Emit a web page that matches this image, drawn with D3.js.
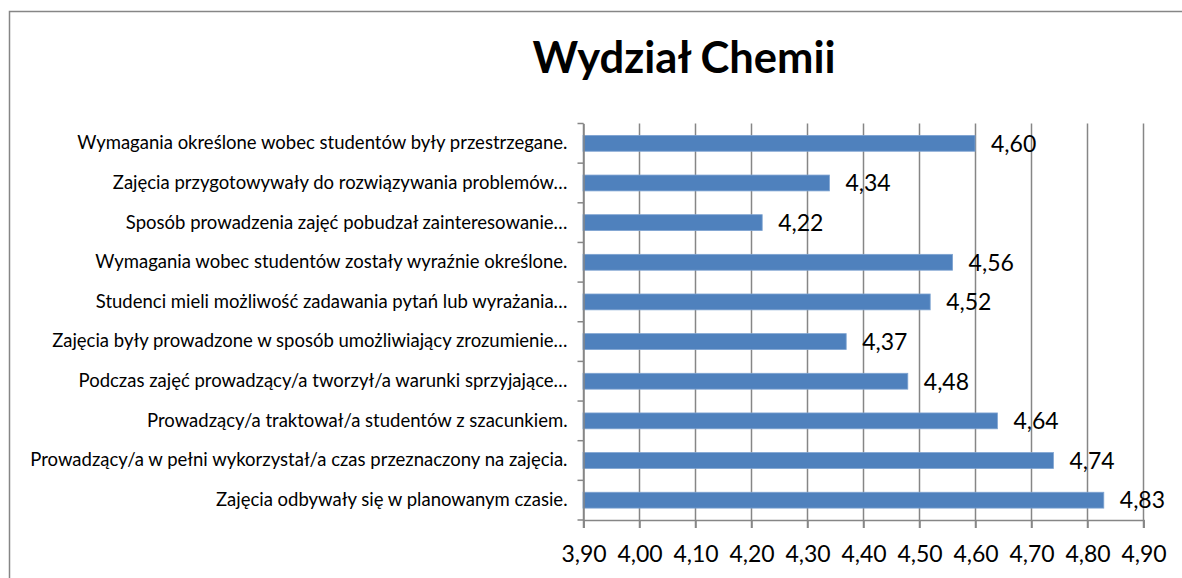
<!DOCTYPE html>
<html>
<head>
<meta charset="utf-8">
<script src="https://cdn.jsdelivr.net/npm/d3@7"></script>
<style>
  body { margin: 0; background: #fff; }
  svg { display: block; font-family: Lato, "Open Sans", sans-serif; }
</style>
</head>
<body>
<div id="chart_area"></div>
<script>
var categories = [
    "Wymagania określone wobec studentów były przestrzegane.",
    "Zajęcia przygotowywały do rozwiązywania problemów…",
    "Sposób prowadzenia zajęć pobudzał zainteresowanie…",
    "Wymagania wobec studentów zostały wyraźnie określone.",
    "Studenci mieli możliwość zadawania pytań lub wyrażania…",
    "Zajęcia były prowadzone w sposób umożliwiający zrozumienie…",
    "Podczas zajęć prowadzący/a tworzył/a warunki sprzyjające…",
    "Prowadzący/a traktował/a studentów z szacunkiem.",
    "Prowadzący/a w pełni wykorzystał/a czas przeznaczony na zajęcia.",
    "Zajęcia odbywały się w planowanym czasie."
];
var values = [4.60, 4.34, 4.22, 4.56, 4.52, 4.37, 4.48, 4.64, 4.74, 4.83];
var tickValues = [3.9, 4.0, 4.1, 4.2, 4.3, 4.4, 4.5, 4.6, 4.7, 4.8, 4.9];
var title = "Wydział Chemii";

var width = 1182, height = 578;
var fmt = function (d) { return d.toFixed(2).replace(".", ","); };

var svg = d3.select("#chart_area")
    .append("svg")
    .attr("width", width)
    .attr("height", height);

// outer chart frame (runs off the right and bottom edges)
svg.append("rect")
    .attr("x", 9.5)
    .attr("y", 11.5)
    .attr("width", width + 20)
    .attr("height", height + 20)
    .attr("fill", "none")
    .attr("stroke", "#868686")
    .attr("stroke-width", 1.5);

var x = d3.scaleLinear().domain([3.9, 4.9]).range([583, 1143]);
var y = d3.scaleBand().domain(categories).range([123.5, 520]).paddingInner(0.6).paddingOuter(0.3);
var band = d3.scaleBand().domain(categories).range([123.5, 520]);

svg.append("text")
    .attr("x", 684)
    .attr("y", 73)
    .attr("text-anchor", "middle")
    .attr("font-size", 43.5)
    .attr("font-weight", "bold")
    .attr("fill", "#000")
    .text(title);

// vertical gridlines
svg.append("g")
    .selectAll("line")
    .data(tickValues)
    .enter()
    .append("line")
    .attr("x1", function (d) { return Math.round(x(d)) + 0.5; })
    .attr("x2", function (d) { return Math.round(x(d)) + 0.5; })
    .attr("y1", 123.5)
    .attr("y2", 528)
    .attr("stroke", "#868686")
    .attr("stroke-width", 1.5);

// bars
svg.append("g")
    .selectAll("rect")
    .data(values)
    .enter()
    .append("rect")
    .attr("x", x(3.9))
    .attr("y", function (d, i) { return y(categories[i]); })
    .attr("width", function (d) { return x(d) - x(3.9); })
    .attr("height", y.bandwidth())
    .attr("fill", "#4f81bd")
    .attr("stroke", "#7ea3d1")
    .attr("stroke-width", 0.8);

// value labels
svg.append("g")
    .selectAll("text")
    .data(values)
    .enter()
    .append("text")
    .attr("x", function (d) { return x(d) + 16; })
    .attr("y", function (d, i) { return y(categories[i]) + y.bandwidth() / 2; })
    .attr("dy", "0.36em")
    .attr("font-size", 23)
    .attr("fill", "#000")
    .text(fmt);

// y axis
var yAxis = svg.append("g")
    .attr("transform", "translate(" + (x(3.9) + 0.5) + ",0)")
    .call(d3.axisLeft(band).tickSize(0).tickPadding(16));
yAxis.select(".domain").attr("stroke", "#868686").attr("stroke-width", 1.5);
yAxis.selectAll("text").attr("font-size", 18.5).attr("fill", "#000").attr("font-family", "Lato, sans-serif");
yAxis.selectAll(".bound")
    .data(d3.range(categories.length + 1))
    .enter()
    .append("line")
    .attr("class", "bound")
    .attr("x1", -6)
    .attr("x2", 0)
    .attr("y1", function (i) { return 123.5 + i * band.step(); })
    .attr("y2", function (i) { return 123.5 + i * band.step(); })
    .attr("stroke", "#868686")
    .attr("stroke-width", 1.5);

// x axis
var xAxis = svg.append("g")
    .attr("transform", "translate(0.5,520)")
    .call(d3.axisBottom(x).tickValues(tickValues).tickFormat(fmt).tickSize(8).tickPadding(18));
xAxis.select(".domain").attr("stroke", "#868686").attr("stroke-width", 1.5);
xAxis.selectAll(".tick line").attr("stroke", "#868686").attr("stroke-width", 1.5);
xAxis.selectAll("text").attr("font-size", 23).attr("fill", "#000").attr("font-family", "Lato, sans-serif");
</script>
</body>
</html>
